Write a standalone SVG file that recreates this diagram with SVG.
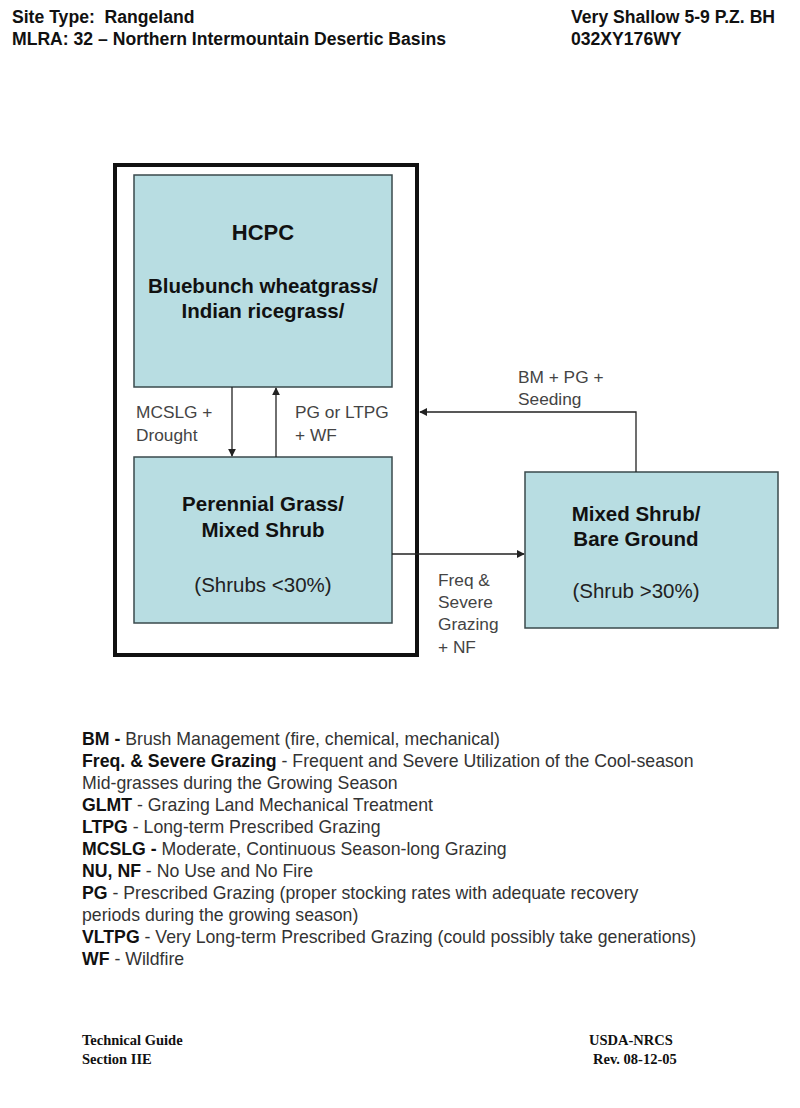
<svg xmlns="http://www.w3.org/2000/svg" width="800" height="1108" viewBox="0 0 800 1108">
<style>
.hdr{font-family:"Liberation Sans",Arial,sans-serif;font-size:17.6px;font-weight:bold;fill:#111}
.box{fill:#b8dde2;stroke:#3a4a4c;stroke-width:1.5}
.t{font-family:"Liberation Sans",Arial,sans-serif;font-size:20.5px;font-weight:bold;fill:#111;text-anchor:middle}
.s{font-family:"Liberation Sans",Arial,sans-serif;font-size:20.5px;fill:#222;text-anchor:middle}
.lbl{font-family:"Liberation Sans",Arial,sans-serif;font-size:17.3px;fill:#444}
.leg{font-family:"Liberation Sans",Arial,sans-serif;font-size:17.7px;fill:#333}
.leg tspan.b{font-weight:bold;fill:#111}
.ft{font-family:"Liberation Serif","Times New Roman",serif;font-size:14.5px;font-weight:bold;fill:#111}
.c{fill:none;stroke:#222;stroke-width:1.3}
</style>
<defs>
<marker id="ah" viewBox="0 0 10 10" refX="9" refY="5" markerWidth="8" markerHeight="8" markerUnits="userSpaceOnUse" orient="auto"><path d="M0,0 L10,5 L0,10 z" fill="#222"/></marker>
</defs>
<rect width="800" height="1108" fill="#fff"/>
<g id="header">
<text class="hdr" x="12" y="23" xml:space="preserve">Site Type:  Rangeland</text>
<text class="hdr" x="12" y="45">MLRA: 32 – Northern Intermountain Desertic Basins</text>
<text class="hdr" x="571" y="23">Very Shallow 5-9 P.Z. BH</text>
<text class="hdr" x="571" y="45">032XY176WY</text>
</g>
<g id="outer">
<rect x="115" y="165" width="302" height="490" fill="none" stroke="#111" stroke-width="4"/>
</g>
<g id="hcpc">
<rect class="box" x="134" y="175" width="258" height="212"/>
<text class="t" x="263" y="240" style="font-size:22px">HCPC</text>
<text class="t" x="263" y="293">Bluebunch wheatgrass/</text>
<text class="t" x="263" y="318">Indian ricegrass/</text>
</g>
<g id="perennial">
<rect class="box" x="134" y="457" width="258" height="166"/>
<text class="t" x="263" y="511">Perennial Grass/</text>
<text class="t" x="263" y="537">Mixed Shrub</text>
<text class="s" x="263" y="592">(Shrubs &lt;30%)</text>
</g>
<g id="mixed">
<rect class="box" x="525" y="472" width="253" height="156"/>
<text class="t" x="636" y="521">Mixed Shrub/</text>
<text class="t" x="636" y="546">Bare Ground</text>
<text class="s" x="636" y="598">(Shrub &gt;30%)</text>
</g>
<g id="connectors">
<line class="c" x1="232" y1="387" x2="232" y2="456" marker-end="url(#ah)"/>
<line class="c" x1="276" y1="457" x2="276" y2="388" marker-end="url(#ah)"/>
<line class="c" x1="392" y1="554" x2="524" y2="554" marker-end="url(#ah)"/>
<polyline class="c" points="636,472 636,412 420,412" marker-end="url(#ah)"/>
</g>
<g id="labels">
<text class="lbl" x="136" y="418">MCSLG +</text>
<text class="lbl" x="136" y="441">Drought</text>
<text class="lbl" x="295" y="418">PG or LTPG</text>
<text class="lbl" x="295" y="441">+ WF</text>
<text class="lbl" x="518" y="383">BM + PG +</text>
<text class="lbl" x="518" y="405">Seeding</text>
<text class="lbl" x="438" y="586">Freq &amp;</text>
<text class="lbl" x="438" y="608">Severe</text>
<text class="lbl" x="438" y="630">Grazing</text>
<text class="lbl" x="438" y="653">+ NF</text>
</g>
<g id="legend">
<text class="leg" x="82" y="745"><tspan class="b">BM - </tspan>Brush Management (fire, chemical, mechanical)</text>
<text class="leg" x="82" y="767"><tspan class="b">Freq. &amp; Severe Grazing</tspan> - Frequent and Severe Utilization of the Cool-season</text>
<text class="leg" x="82" y="789">Mid-grasses during the Growing Season</text>
<text class="leg" x="82" y="811"><tspan class="b">GLMT</tspan> - Grazing Land Mechanical Treatment</text>
<text class="leg" x="82" y="833"><tspan class="b">LTPG</tspan> - Long-term Prescribed Grazing</text>
<text class="leg" x="82" y="855"><tspan class="b">MCSLG - </tspan>Moderate, Continuous Season-long Grazing</text>
<text class="leg" x="82" y="877"><tspan class="b">NU, NF</tspan> - No Use and No Fire</text>
<text class="leg" x="82" y="899"><tspan class="b">PG</tspan> - Prescribed Grazing (proper stocking rates with adequate recovery</text>
<text class="leg" x="82" y="921">periods during the growing season)</text>
<text class="leg" x="82" y="943"><tspan class="b">VLTPG</tspan> - Very Long-term Prescribed Grazing (could possibly take generations)</text>
<text class="leg" x="82" y="965"><tspan class="b">WF</tspan> - Wildfire</text>
</g>
<g id="footer">
<text class="ft" x="82" y="1045">Technical Guide</text>
<text class="ft" x="82" y="1064">Section IIE</text>
<text class="ft" x="589" y="1045">USDA-NRCS</text>
<text class="ft" x="593" y="1064">Rev. 08-12-05</text>
</g>
</svg>
